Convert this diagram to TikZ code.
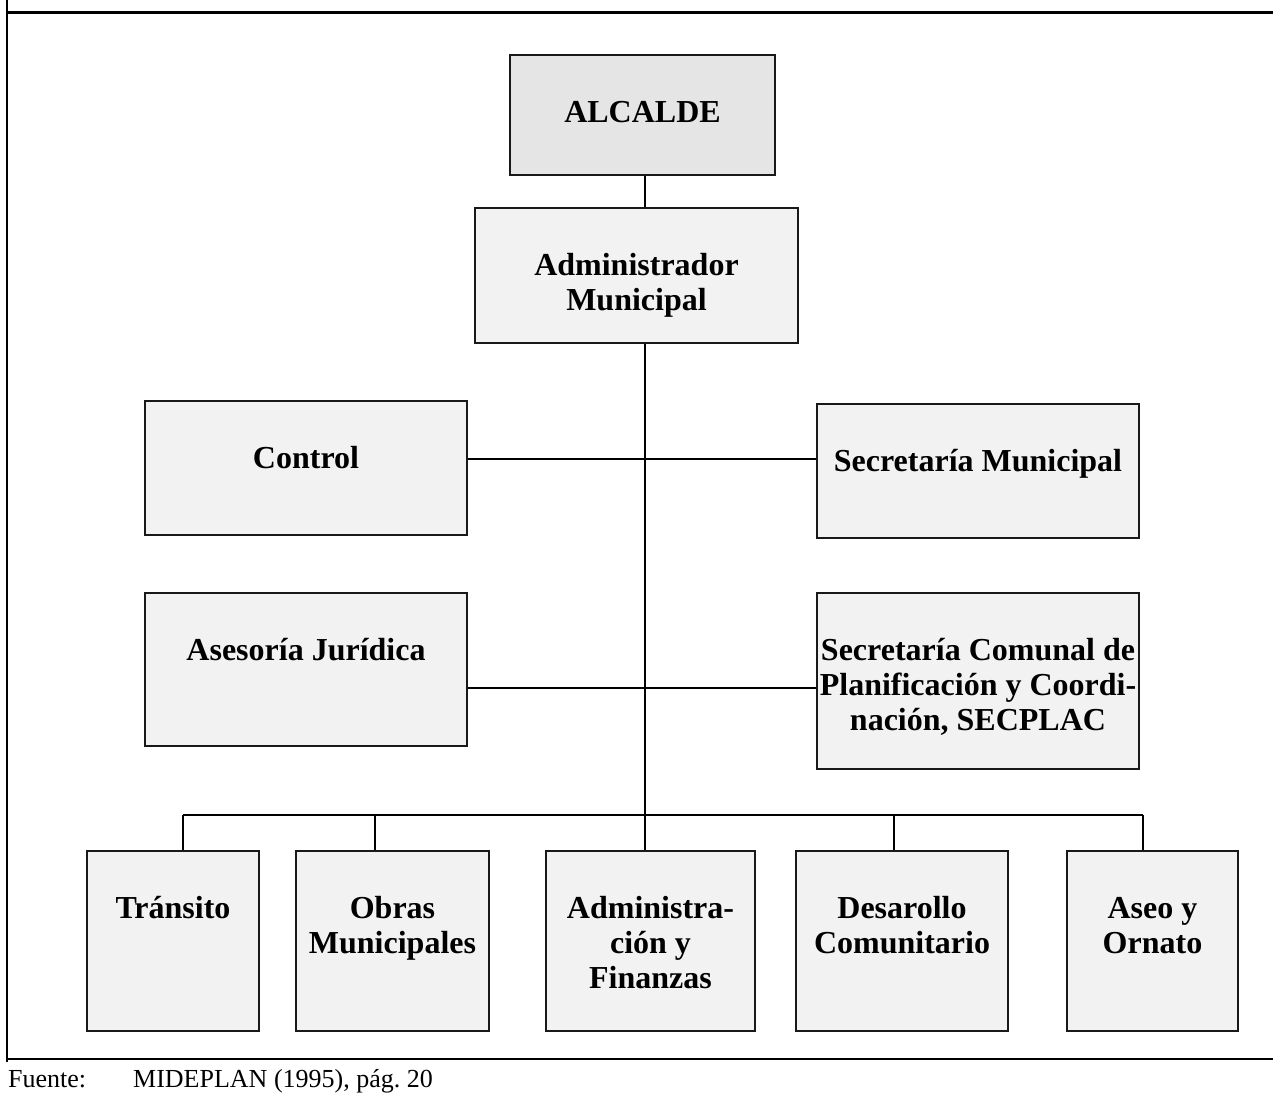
\documentclass[tikz,border=0pt]{standalone}
\usepackage{fontspec}
\setmainfont{Liberation Serif}
\usetikzlibrary{calc}

\definecolor{boxgray}{HTML}{F2F2F2}
\definecolor{headgray}{HTML}{E5E5E5}

% box content: width, height, text (first baseline about 67pt below the top)
\newcommand{\orgbox}[3]{\begin{minipage}[c][#2][t]{#1}\centering\vspace*{43pt}\strut #3\end{minipage}}

\begin{document}
\begin{tikzpicture}[x=1pt,y=-1pt,                 % 1pt per pixel, y downwards
                    every node/.style={inner sep=0pt,font=\fontsize{32}{35}\selectfont\bfseries},
                    unit/.style={draw=black!90,line width=2pt,fill=boxgray},
                    link/.style={line width=1.2pt,black}]

\useasboundingbox (0,0) rectangle (1273,1094);

% ---------------------------------------------------------------
% Frame
\draw[line width=2pt] (7,0) -- (7,1062);
\draw[line width=2.5pt] (7,12.5) -- (1273,12.5);
\draw[line width=2pt] (7,1059) -- (1273,1059);

% ---------------------------------------------------------------
% Boxes
\node[unit,fill=headgray] (alcalde) at (642.5,115) {\orgbox{265pt}{120pt}{ALCALDE}};
\node[unit] (adm)      at (636.5,275.5) {\orgbox{323pt}{135pt}{Administrador\\Municipal}};

\node[unit] (control)  at (306,468)     {\orgbox{322pt}{134pt}{Control}};
\node[unit] (secmun)   at (978,471)     {\orgbox{322pt}{134pt}{Secretaría Municipal}};
\node[unit] (asesoria) at (306,669.5)   {\orgbox{322pt}{153pt}{Asesoría Jurídica}};
\node[unit] (secplac)  at (978,681)     {\orgbox{322pt}{176pt}{Secretaría Comunal de\\Planificación y Coordi-\\nación, SECPLAC}};

\node[unit] (transito)   at (173,941)    {\orgbox{172pt}{180pt}{Tránsito}};
\node[unit] (obras)      at (392.5,941)  {\orgbox{193pt}{180pt}{Obras\\Municipales}};
\node[unit] (adfin)      at (650.5,941)  {\orgbox{209pt}{180pt}{Administra-\\ción y\\Finanzas}};
\node[unit] (desarrollo) at (902,941)    {\orgbox{212pt}{180pt}{Desarollo\\Comunitario}};
\node[unit] (aseo)       at (1152.5,941) {\orgbox{171pt}{180pt}{Aseo y\\Ornato}};

% ---------------------------------------------------------------
% Connectors
\coordinate (trunk) at (645,815);    % foot of the main line
\coordinate (row1)  at (645,459);
\coordinate (row2)  at (645,688);
\coordinate (busL)  at (183,815);
\coordinate (busR)  at (1143,815);

\draw[link] (alcalde.south -| trunk) -- (adm.north -| trunk);
\draw[link] (adm.south -| trunk) -- (trunk);
\draw[link] (row1 -| control.east) -- (row1 -| secmun.west);
\draw[link] (row2 -| asesoria.east) -- (row2 -| secplac.west);
\draw[link] (busL) -- (busR);
\foreach \n/\x in {transito/183,obras/375,adfin/645,desarrollo/894,aseo/1143}{
  \coordinate (drop) at (\x,815);
  \draw[link] (drop) -- (drop |- \n.north);
}

% ---------------------------------------------------------------
% Source
\node[anchor=base west,font=\fontsize{26}{29}\selectfont] (src)    at (8,1087)   {Fuente:};
\node[anchor=base west,font=\fontsize{26}{29}\selectfont] (srcref) at (133,1087) {MIDEPLAN (1995), pág.~20};

\end{tikzpicture}
\end{document}
